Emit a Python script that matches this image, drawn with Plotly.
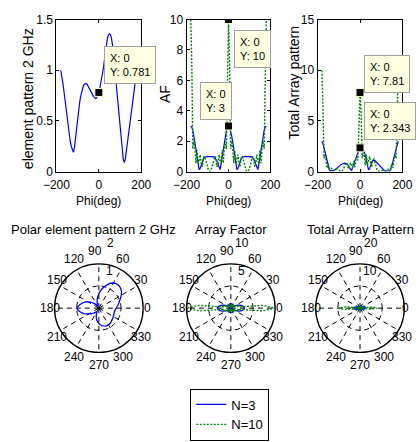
import math
import plotly.graph_objects as go

# ---------------- data ----------------
phi_deg = [-180, -175, -170, -165, -160, -155, -150, -145, -140, -135,
           -130, -125, -120, -115, -110, -105, -100, -95, -90, -85,
           -80, -75, -70, -65, -60, -55, -50, -45, -40, -35,
           -30, -25, -20, -15, -10, -5, 0, 5, 10, 15,
           20, 25, 30, 35, 40, 45, 50, 55, 60, 65,
           70, 75, 80, 85, 90, 95, 100, 105, 110, 115,
           120, 125, 130, 135, 140, 145, 150, 155, 160, 165,
           170, 175, 180]

element = [1.00, 0.95, 0.88, 0.80, 0.71, 0.61, 0.52, 0.44, 0.37, 0.30,
           0.25, 0.21, 0.19, 0.24, 0.34, 0.45, 0.54, 0.62, 0.69, 0.75,
           0.80, 0.83, 0.86, 0.87, 0.87, 0.86, 0.84, 0.81, 0.79, 0.77,
           0.75, 0.74, 0.73, 0.72, 0.73, 0.75, 0.781, 0.83, 0.88, 0.94,
           1.00, 1.08, 1.17, 1.25, 1.31, 1.35, 1.36, 1.35, 1.31, 1.24,
           1.13, 1.01, 0.90, 0.78, 0.65, 0.53, 0.41, 0.30, 0.20, 0.12,
           0.09, 0.13, 0.21, 0.29, 0.38, 0.48, 0.57, 0.66, 0.74, 0.81,
           0.87, 0.94, 1.00]

af_n3 = [3, 2.925, 2.71, 2.37, 1.95, 1.48, 1.0, 0.54, 0.13, 0.21,
         0.48, 0.69, 0.83, 0.91, 0.965, 0.99, 1.0, 1.0, 1.0,
         1.0, 1.0, 0.99, 0.965, 0.91, 0.83, 0.69, 0.48, 0.21, 0.13,
         0.54, 1.0, 1.48, 1.95, 2.37, 2.71, 2.925, 3,
         2.925, 2.71, 2.37, 1.95, 1.48, 1.0, 0.54, 0.13, 0.21,
         0.48, 0.69, 0.83, 0.91, 0.965, 0.99, 1.0, 1.0, 1.0,
         1.0, 1.0, 0.99, 0.965, 0.91, 0.83, 0.69, 0.48, 0.21, 0.13,
         0.54, 1.0, 1.48, 1.95, 2.37, 2.71, 2.925, 3]

af_n10 = [10, 7.17, 1.50, 2.02, 1.55, 0.56, 1.41, 0.51, 0.74, 1.11,
          0.55, 0.31, 0.88, 1.01, 0.81, 0.51, 0.24, 0.06, 0.0,
          0.06, 0.24, 0.51, 0.81, 1.01, 0.88, 0.31, 0.55, 1.11, 0.74,
          0.51, 1.41, 0.56, 1.55, 2.02, 1.50, 7.17, 10,
          7.17, 1.50, 2.02, 1.55, 0.56, 1.41, 0.51, 0.74, 1.11,
          0.55, 0.31, 0.88, 1.01, 0.81, 0.51, 0.24, 0.06, 0.0,
          0.06, 0.24, 0.51, 0.81, 1.01, 0.88, 0.31, 0.55, 1.11, 0.74,
          0.51, 1.41, 0.56, 1.55, 2.02, 1.50, 7.17, 10]

total_n3 = [3.00, 2.78, 2.38, 1.90, 1.38, 0.90, 0.52, 0.24, 0.05, 0.06,
            0.12, 0.14, 0.16, 0.22, 0.33, 0.45, 0.54, 0.62, 0.69, 0.75,
            0.80, 0.82, 0.83, 0.79, 0.72, 0.59, 0.40, 0.17, 0.10, 0.42,
            0.75, 1.10, 1.42, 1.71, 1.98, 2.19, 2.343, 2.43, 2.38, 2.23,
            1.95, 1.60, 1.17, 0.68, 0.17, 0.28, 0.65, 0.93, 1.09, 1.13,
            1.09, 1.00, 0.90, 0.78, 0.65, 0.53, 0.41, 0.30, 0.19, 0.11,
            0.07, 0.09, 0.10, 0.06, 0.05, 0.26, 0.57, 0.98, 1.44, 1.92,
            2.36, 2.75, 3.00]

total_n10 = [10, 6.81, 1.32, 1.62, 1.10, 0.34, 0.73, 0.22, 0.27, 0.33,
             0.14, 0.07, 0.17, 0.24, 0.28, 0.23, 0.13, 0.04, 0.0, 0.05,
             0.19, 0.42, 0.70, 0.88, 0.77, 0.27, 0.46, 0.90, 0.58, 0.39,
             1.06, 0.41, 1.13, 1.45, 1.10, 5.38, 7.81, 5.95, 1.32, 1.90,
             1.55, 0.60, 1.65, 0.64, 0.97, 1.50, 0.75, 0.42, 1.15, 1.25,
             0.92, 0.52, 0.22, 0.05, 0.0, 0.03, 0.10, 0.15, 0.16, 0.12,
             0.08, 0.04, 0.12, 0.32, 0.28, 0.24, 0.80, 0.37, 1.15, 1.64,
             1.31, 6.74, 10]

series_names = ["N=3", "N=10"]
x_ticks = [-200, 0, 200]
polar_angles = [0, 30, 60, 90, 120, 150, 180, 210, 240, 270, 300, 330]

# ---------------- styling ----------------
FONT = "Liberation Sans, Arial, sans-serif"
BLUE = "#0000FF"
GREEN = "#008000"
DOT = "2px,1.5px"
W, H = 420, 442


def px_x(p):
    return p / W


def px_y(p):
    return 1 - p / H


def label(x, y, text, size, xanchor="center", yanchor="middle", angle=0):
    fig.add_annotation(xref="paper", yref="paper", x=px_x(x), y=px_y(y),
                       xanchor=xanchor, yanchor=yanchor, showarrow=False,
                       textangle=angle, text=text,
                       font=dict(family=FONT, size=size, color="black"))


fig = go.Figure()

i0 = phi_deg.index(0)

# top row cartesian plots
top_series = [
    [(element, BLUE, "solid", None)],
    [(af_n3, BLUE, "solid", series_names[0]), (af_n10, GREEN, DOT, series_names[1])],
    [(total_n3, BLUE, "solid", None), (total_n10, GREEN, DOT, None)],
]
for k, group in enumerate(top_series):
    xa = "x" if k == 0 else f"x{k+1}"
    ya = "y" if k == 0 else f"y{k+1}"
    for vals, col, dash, name in group:
        fig.add_trace(go.Scatter(
            x=phi_deg, y=vals, mode="lines", xaxis=xa, yaxis=ya,
            line=dict(color=col, width=1.4 if dash == DOT else 1.2, dash=dash),
            name=name if name else "", showlegend=bool(name)))

# datatip markers
tips = [("x", "y", element), ("x2", "y2", af_n10), ("x2", "y2", af_n3),
        ("x3", "y3", total_n10), ("x3", "y3", total_n3)]
tip_boxes = [(95, 40), (233, 24), (197, 77), (371, 50), (371, 98)]
for (xa, ya, vals), (bx, by) in zip(tips, tip_boxes):
    xv, yv = phi_deg[i0], vals[i0]
    fig.add_trace(go.Scatter(
        x=[xv], y=[yv], mode="markers", xaxis=xa, yaxis=ya, showlegend=False,
        marker=dict(symbol="square", size=8, color="black",
                    line=dict(color="#FFFFD0", width=1))))
    fig.add_annotation(
        xref="paper", yref="paper", x=px_x(bx), y=px_y(by),
        xanchor="left", yanchor="top", align="left", showarrow=False,
        text=f"X: {xv}<br>Y: {yv}", font=dict(family=FONT, size=11, color="black"),
        bgcolor="#FFFFE1", bordercolor="#A0A0A0", borderwidth=1, borderpad=5)

axis_common = dict(showline=True, linecolor="black", linewidth=1, mirror="ticks",
                   ticks="inside", ticklen=3, tickcolor="black", showgrid=False,
                   zeroline=False, tickfont=dict(family=FONT, size=12, color="black"))

x_domains = [(45, 135), (183, 272), (322, 412)]
y_ranges = [([0, 1.5], 0.5), ([0, 10], 2), ([0, 15], 5)]
y_titles = ["element pattern 2 GHz", "AF", "Total Array pattern"]
y_title_pos = [(15, 95), (160, 90), (297, 78)]
for k in range(3):
    sx = "" if k == 0 else str(k + 1)
    fig.update_layout({
        f"xaxis{sx}": dict(domain=[px_x(x_domains[k][0]), px_x(x_domains[k][1])],
                           anchor=f"y{sx}", range=[-200, 200], tickvals=x_ticks,
                           ticklabelstandoff=2, **axis_common),
        f"yaxis{sx}": dict(domain=[px_y(170), px_y(13)], anchor=f"x{sx}",
                           range=y_ranges[k][0], dtick=y_ranges[k][1],
                           **axis_common),
    })
    label((x_domains[k][0] + x_domains[k][1]) / 2, 200, "Phi(deg)", 12)
    label(y_title_pos[k][0], y_title_pos[k][1], y_titles[k], 14, angle=-90)

# bottom row polar plots
polar_series = [
    [(element, BLUE, "solid")],
    [(af_n3, BLUE, "solid"), (af_n10, GREEN, DOT)],
    [(total_n3, BLUE, "solid"), (total_n10, GREEN, DOT)],
]
polar_r = [([0, 2], [1, 2]), ([0, 10], [5, 10]), ([0, 20], [10, 20])]
polar_cx = [90, 230, 367]
polar_titles = ["Polar element pattern 2 GHz", "Array Factor", "Total Array Pattern"]
title_cx = [84, 230, 368]
radial_label_pos = [(11, 273), (12, 244)]   # (dx from centre, y) for inner / outer ring
R = 47
cy = 311
for k in range(3):
    sub = "polar" if k == 0 else f"polar{k+1}"
    cx = polar_cx[k]
    for vals, col, dash in polar_series[k]:
        fig.add_trace(go.Scatterpolar(
            r=vals, theta=phi_deg, mode="lines", subplot=sub, showlegend=False,
            line=dict(color=col, width=1.3, dash=dash)))
    fig.update_layout({sub: dict(
        domain=dict(x=[px_x(cx - R), px_x(cx + R)], y=[px_y(cy + R), px_y(cy - R)]),
        bgcolor="white",
        angularaxis=dict(direction="counterclockwise", rotation=0, tickmode="array",
                         tickvals=polar_angles, showticklabels=False,
                         ticks="", showline=True, linecolor="black",
                         linewidth=1.3, showgrid=True, gridcolor="black", griddash="5px,4px",
                         gridwidth=1),
        radialaxis=dict(range=polar_r[k][0], tickvals=polar_r[k][1], showline=False,
                        showticklabels=False, ticks="", showgrid=True, gridcolor="black",
                        griddash="5px,4px", gridwidth=1),
    )})
    # angle labels around the circle
    for a in polar_angles:
        lx = cx + 1.1 * R * math.cos(math.radians(a))
        ly = cy - 1.25 * R * math.sin(math.radians(a))
        if a == 90:
            lx -= 4
        lx = min(lx, W - 5)
        label(lx, ly, str(a), 12)
    # radius labels near the 80 degree spoke
    for rv, (dx, ly) in zip(polar_r[k][1], radial_label_pos):
        label(cx + dx, ly, str(rv), 12)
    label(title_cx[k], 230, polar_titles[k], 13)

fig.update_layout(
    width=W, height=H, autosize=False,
    margin=dict(l=0, r=0, t=0, b=0),
    paper_bgcolor="white", plot_bgcolor="white",
    font=dict(family=FONT, size=12, color="black"),
    showlegend=True,
    legend=dict(x=px_x(187), y=px_y(394), xanchor="left", yanchor="top",
                bordercolor="black", borderwidth=1, bgcolor="white",
                font=dict(family=FONT, size=13, color="black"),
                tracegroupgap=0, itemwidth=30),
)

fig.write_html("out.html")
